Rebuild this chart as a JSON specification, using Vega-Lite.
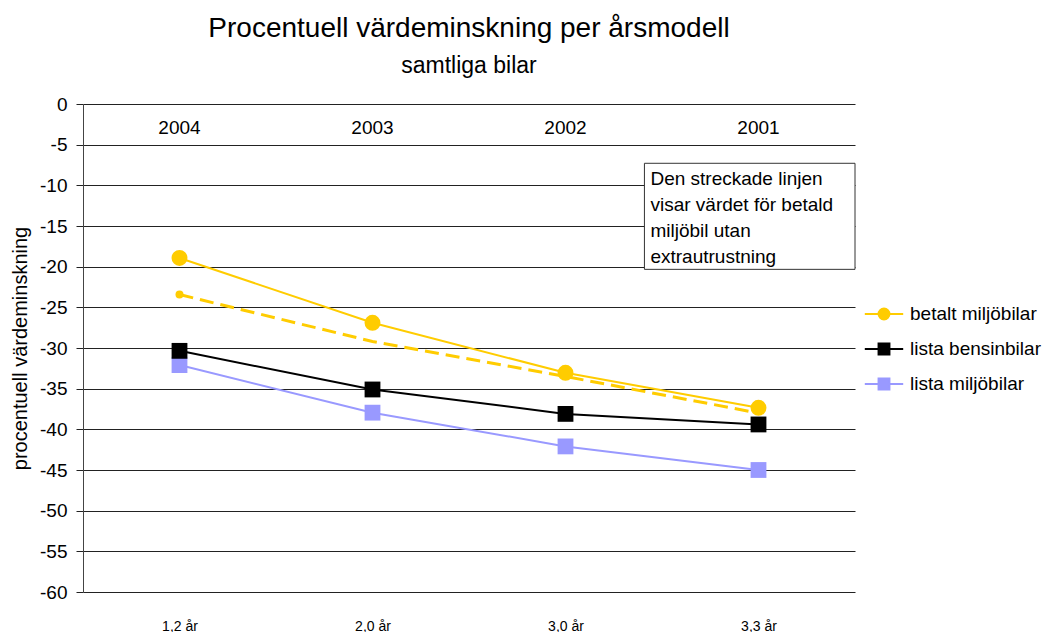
{
  "$schema": "https://vega.github.io/schema/vega-lite/v6.json",
  "width": 772,
  "height": 488,
  "autosize": {"type": "none"},
  "padding": {"left": 83, "top": 104, "right": 192, "bottom": 40},
  "background": "white",
  "config": {
    "font": "Liberation Sans",
    "view": {"stroke": null}
  },
  "title": {
    "text": "Procentuell värdeminskning per årsmodell",
    "subtitle": "samtliga bilar",
    "fontSize": 28,
    "fontWeight": "normal",
    "color": "black",
    "subtitleFontSize": 23,
    "subtitleColor": "black",
    "subtitleFont": "Liberation Sans",
    "subtitlePadding": 12,
    "anchor": "middle",
    "offset": 17
  },
  "datasets": {
    "serier": [
      {"x": 1, "serie": "lista miljöbilar", "varde": -32.1},
      {"x": 2, "serie": "lista miljöbilar", "varde": -37.95},
      {"x": 3, "serie": "lista miljöbilar", "varde": -42.1},
      {"x": 4, "serie": "lista miljöbilar", "varde": -45.0},
      {"x": 1, "serie": "lista bensinbilar", "varde": -30.35},
      {"x": 2, "serie": "lista bensinbilar", "varde": -35.1},
      {"x": 3, "serie": "lista bensinbilar", "varde": -38.1},
      {"x": 4, "serie": "lista bensinbilar", "varde": -39.4},
      {"x": 1, "serie": "betalt miljöbilar", "varde": -18.93},
      {"x": 2, "serie": "betalt miljöbilar", "varde": -26.9},
      {"x": 3, "serie": "betalt miljöbilar", "varde": -33.05},
      {"x": 4, "serie": "betalt miljöbilar", "varde": -37.35}
    ],
    "streckad": [
      {"x": 1, "varde": -23.43},
      {"x": 2, "varde": -29.2},
      {"x": 3, "varde": -33.5},
      {"x": 4, "varde": -38.0}
    ],
    "ar": [
      {"x": 1, "year": "2004"},
      {"x": 2, "year": "2003"},
      {"x": 3, "year": "2002"},
      {"x": 4, "year": "2001"}
    ],
    "anteckning": [
      {"text": "Den streckade linjen\nvisar värdet för betald\nmiljöbil utan\nextrautrustning"}
    ]
  },
  "layer": [
    {
      "data": {"name": "anteckning"},
      "mark": {"type": "rect", "fill": "white", "stroke": "#333333", "strokeWidth": 1},
      "encoding": {
        "x": {"datum": 3.409, "type": "quantitative", "scale": {"domain": [0.5, 4.5], "nice": false, "zero": false},
          "axis": {"values": [1, 2, 3, 4], "labelExpr": "['', '1,2 år', '2,0 år', '3,0 år', '3,3 år'][datum.value]", "grid": false, "ticks": false, "domain": false, "labelFontSize": 14, "labelColor": "black", "labelPadding": 27, "title": null}},
        "x2": {"datum": 4.5},
        "y": {"datum": -7.29, "type": "quantitative", "scale": {"domain": [-60, 0], "nice": false, "zero": false},
          "axis": {"values": [-60, -55, -50, -45, -40, -35, -30, -25, -20, -15, -10, -5, 0], "labelExpr": "toString(datum.value)", "grid": true, "gridColor": "#222222", "gridWidth": 1, "gridOpacity": 1, "domainColor": "#444444", "tickColor": "#222222", "tickSize": 7, "labelFontSize": 19, "labelColor": "black", "labelPadding": 9, "title": "procentuell värdeminskning", "titleFontSize": 20, "titleFontWeight": "normal", "titleColor": "black", "titlePadding": 9}},
        "y2": {"datum": -20.33}
      }
    },
    {
      "data": {"name": "anteckning"},
      "mark": {"type": "text", "align": "left", "baseline": "alphabetic", "fontSize": 19, "lineHeight": 26, "lineBreak": "\n", "color": "black"},
      "encoding": {
        "x": {"datum": 3.44, "type": "quantitative"},
        "y": {"datum": -9.95, "type": "quantitative"},
        "text": {"field": "text", "type": "nominal"}
      }
    },
    {
      "data": {"name": "ar"},
      "mark": {"type": "text", "align": "center", "baseline": "middle", "fontSize": 19, "color": "black"},
      "encoding": {
        "x": {"field": "x", "type": "quantitative"},
        "y": {"datum": -3, "type": "quantitative"},
        "text": {"field": "year", "type": "nominal"}
      }
    },
    {
      "data": {"name": "serier"},
      "encoding": {
        "x": {"field": "x", "type": "quantitative"},
        "y": {"field": "varde", "type": "quantitative"},
        "color": {
          "field": "serie",
          "type": "nominal",
          "scale": {"domain": ["betalt miljöbilar", "lista bensinbilar", "lista miljöbilar"], "range": ["#FFCC00", "#000000", "#9999FF"]},
          "legend": {
            "orient": "none",
            "legendX": 784,
            "legendY": 193,
            "title": null,
            "padding": 0,
            "labelFontSize": 19,
            "labelColor": "black",
            "labelOffset": 9,
            "symbolSize": 1024,
            "symbolStrokeWidth": 2,
            "rowPadding": 8,
            "encode": {
              "symbols": {
                "update": {
                  "shape": {"signal": "datum.value === 'betalt miljöbilar' ? 'M-1.2,0L1.2,0M-0.34,0A0.34,0.34,0,1,1,0.34,0A0.34,0.34,0,1,1,-0.34,0Z' : 'M-1.2,0L1.2,0M-0.34,-0.34L0.34,-0.34L0.34,0.34L-0.34,0.34Z'"},
                  "fill": {"scale": "color", "field": "value"},
                  "stroke": {"scale": "color", "field": "value"},
                  "opacity": {"value": 1},
                  "fillOpacity": {"value": 1},
                  "strokeOpacity": {"value": 1}
                }
              }
            }
          }
        }
      },
      "layer": [
        {"mark": {"type": "line", "strokeWidth": 2}},
        {
          "transform": [{"filter": "datum.serie !== 'betalt miljöbilar'"}],
          "mark": {"type": "point", "shape": "square", "filled": true, "opacity": 1, "size": 250}
        },
        {
          "transform": [{"filter": "datum.serie === 'betalt miljöbilar'"}],
          "mark": {"type": "point", "shape": "circle", "filled": true, "opacity": 1, "size": 254}
        }
      ]
    },
    {
      "data": {"name": "streckad"},
      "mark": {"type": "line", "color": "#FFCC00", "strokeWidth": 3, "strokeDash": [14, 7]},
      "encoding": {
        "x": {"field": "x", "type": "quantitative"},
        "y": {"field": "varde", "type": "quantitative"}
      }
    },
    {
      "data": {"name": "streckad"},
      "transform": [{"filter": "datum.x == 1"}],
      "mark": {"type": "point", "filled": true, "opacity": 1, "color": "#FFCC00", "size": 64},
      "encoding": {
        "x": {"field": "x", "type": "quantitative"},
        "y": {"field": "varde", "type": "quantitative"}
      }
    }
  ]
}
